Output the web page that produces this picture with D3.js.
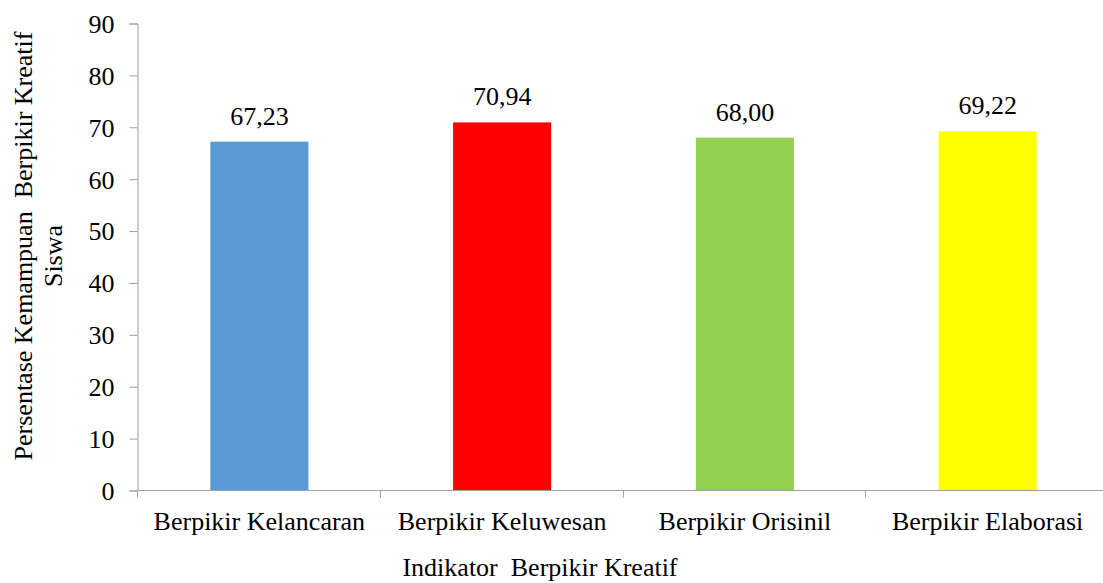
<!DOCTYPE html>
<html>
<head>
<meta charset="utf-8">
<script src="https://cdn.jsdelivr.net/npm/d3@7"></script>
<style>
  html, body { margin: 0; padding: 0; background: #fff; }
  svg { display: block; }
  text { font-family: "Liberation Serif", serif; fill: #000; }
</style>
</head>
<body>
<svg id="chart" width="1103" height="583"></svg>
<script>
const categories = ["Berpikir Kelancaran", "Berpikir Keluwesan", "Berpikir Orisinil", "Berpikir Elaborasi"];
const values = [67.23, 70.94, 68.00, 69.22];
const valueLabels = ["67,23", "70,94", "68,00", "69,22"];
const colors = ["#5B9BD5", "#FF0000", "#92D050", "#FFFF00"];
const yTicks = [0, 10, 20, 30, 40, 50, 60, 70, 80, 90];
const yTitle = ["Persentase Kemampuan\u00A0 Berpikir Kreatif", "Siswa"];
const xTitle = "Indikator\u00A0 Berpikir Kreatif";

(function () {
const svg = d3.select("#chart");
const pLeft = 138, pRight = 1109, pTop = 23.5, pBottom = 490.5;
const axisColor = "#A0A0A0";
const fs = 26;

const y = d3.scaleLinear().domain([0, 90]).range([pBottom, pTop]);
const x = d3.scaleBand().domain(categories).range([pLeft, pRight])
  .paddingInner(0.596).paddingOuter(0.298);

// bars
svg.append("g").selectAll("rect").data(values).join("rect")
  .attr("x", (d, i) => x(categories[i]))
  .attr("y", d => y(d))
  .attr("width", x.bandwidth())
  .attr("height", d => y(0) - y(d))
  .attr("fill", (d, i) => colors[i]);

// value labels
svg.append("g").selectAll("text").data(values).join("text")
  .attr("x", (d, i) => x(categories[i]) + x.bandwidth() / 2)
  .attr("y", d => y(d) - 17)
  .attr("text-anchor", "middle")
  .attr("font-size", fs)
  .text((d, i) => valueLabels[i]);

// y axis
const yAxis = d3.axisLeft(y).tickValues(yTicks).tickSize(8).tickPadding(15).tickFormat(d3.format("d"));
const gy = svg.append("g").attr("transform", `translate(${pLeft - 0.5},0)`).call(yAxis);
gy.attr("font-family", null);
gy.select(".domain").attr("stroke", axisColor);
gy.selectAll(".tick line").attr("stroke", axisColor);
gy.selectAll(".tick text").attr("font-size", fs).attr("fill", "#000").attr("dy", "0.34em");

// x axis
const step = x.step();
const start = x(categories[0]) - x.paddingOuter() * step;
const boundaries = d3.range(categories.length + 1).map(i => start + i * step);
const gx = svg.append("g");
gx.append("line").attr("x1", pLeft - 0.5).attr("x2", 1103).attr("y1", pBottom).attr("y2", pBottom).attr("stroke", axisColor);
gx.selectAll("line.t").data(boundaries).join("line").attr("class", "t")
  .attr("x1", d => Math.round(d) - 0.5).attr("x2", d => Math.round(d) - 0.5)
  .attr("y1", pBottom).attr("y2", pBottom + 7).attr("stroke", axisColor);
gx.selectAll("text").data(categories).join("text")
  .attr("x", d => x(d) + x.bandwidth() / 2)
  .attr("y", 530)
  .attr("text-anchor", "middle")
  .attr("font-size", fs)
  .text(d => d);

// axis titles
svg.append("text")
  .attr("transform", "translate(32,246) rotate(-90)")
  .attr("text-anchor", "middle").attr("font-size", fs)
  .text(yTitle[0]);
svg.append("text")
  .attr("transform", "translate(62,256) rotate(-90)")
  .attr("text-anchor", "middle").attr("font-size", fs)
  .text(yTitle[1]);
svg.append("text")
  .attr("x", 540).attr("y", 576)
  .attr("text-anchor", "middle").attr("font-size", fs)
  .text(xTitle);
})();
</script>
</body>
</html>
